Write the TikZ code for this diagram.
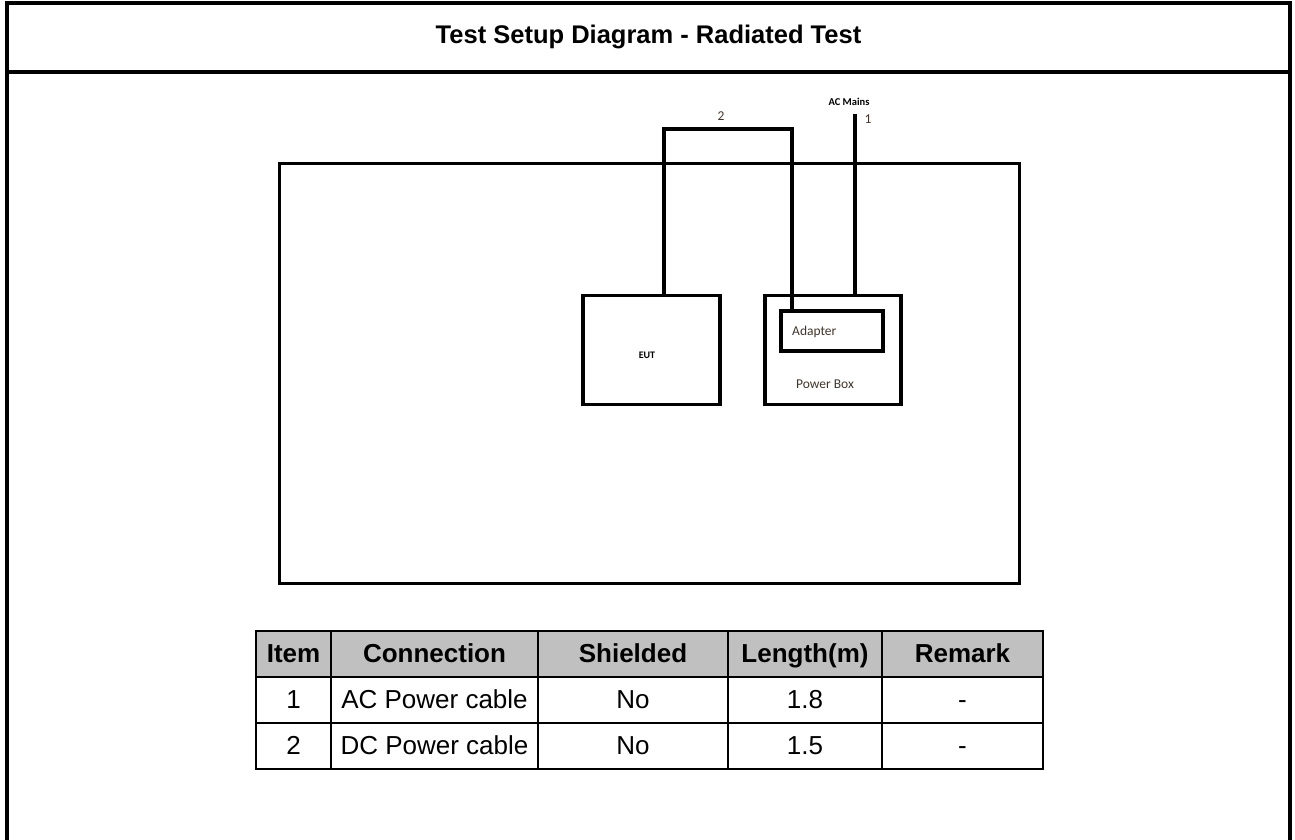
\documentclass[tikz,border=0pt]{standalone}
\usepackage{fontspec}
\setmainfont{Liberation Sans}
\newfontfamily\calfont{Carlito}
\definecolor{hdrgray}{RGB}{192,192,192}
\definecolor{lbltext}{RGB}{64,52,42}
\begin{document}
\begin{tikzpicture}[x=1pt,y=-1pt,
  frame/.style={line width=4pt},
  boxthick/.style={draw,line width=3.5pt,inner sep=0pt,rectangle},
  cable/.style={line width=3.5pt},
  cell/.style={draw,line width=1.6pt,inner sep=0pt,minimum height=46pt,text height=22.5pt,text depth=5pt,font=\fontsize{26}{30}\selectfont},
  hcell/.style={cell,fill=hdrgray,font=\fontsize{26}{30}\selectfont\bfseries},
  small/.style={font=\calfont\fontsize{13.5}{15}\selectfont,text=lbltext,inner sep=0pt}
]
\useasboundingbox (0,0) rectangle (1295,840);
% outer frame
\draw[frame] (7,845) -- (7,3) -- (1290,3) -- (1290,845);
\draw[frame] (7,72) -- (1290,72);
\node[font=\fontsize{25.5}{30}\selectfont\bfseries] (title) at (648.5,37) {Test Setup Diagram - Radiated Test};
% table area (ground plane)
\node[boxthick,minimum width=740pt,minimum height=420pt] (table) at (649.5,373.5) {};
% EUT
\node[boxthick,minimum width=137pt,minimum height=109pt] (eut) at (651.5,350) {};
\node[font=\calfont\bfseries\fontsize{10}{12}\selectfont,inner sep=0pt] (eutlbl) at (647,355) {EUT};
% Power box
\node[boxthick,minimum width=136pt,minimum height=109pt] (pbox) at (833,350) {};
\node[boxthick,minimum width=102pt,minimum height=40pt] (adapter) at (832,331) {};
\node[small,anchor=west] (adlbl) at (792,332) {Adapter};
\node[small] (pblbl) at (825,384) {Power Box};
% cable 2
\coordinate (c2a) at (664,129);
\coordinate (c2b) at (792,129);
\draw[cable,line join=miter] (eut.north -| c2a) -- (c2a) -- (c2b) -- (c2b |- adapter.north);
\node[small] (lbl2) at (721,116) {2};
% cable 1
\coordinate (actop) at (855,114);
\draw[cable] (actop) -- (actop |- pbox.north);
\node[small] (lbl1) at (868,119) {1};
\node[font=\calfont\bfseries\fontsize{10.5}{12}\selectfont,inner sep=0pt] (acm) at (849,101.5) {AC Mains};
% connection table
\node[hcell,minimum width=75pt] (h1) at (293.5,654) {Item};
\node[hcell,minimum width=207pt] (h2) at (434.5,654) {Connection};
\node[hcell,minimum width=190pt] (h3) at (633,654) {Shielded};
\node[hcell,minimum width=154pt] (h4) at (805,654) {Length(m)};
\node[hcell,minimum width=161pt] (h5) at (962.5,654) {Remark};
\node[cell,minimum width=75pt] (a1) at (293.5,700) {1};
\node[cell,minimum width=207pt] (a2) at (434.5,700) {AC Power cable};
\node[cell,minimum width=190pt] (a3) at (633,700) {No};
\node[cell,minimum width=154pt] (a4) at (805,700) {1.8};
\node[cell,minimum width=161pt] (a5) at (962.5,700) {-};
\node[cell,minimum width=75pt] (b1) at (293.5,746) {2};
\node[cell,minimum width=207pt] (b2) at (434.5,746) {DC Power cable};
\node[cell,minimum width=190pt] (b3) at (633,746) {No};
\node[cell,minimum width=154pt] (b4) at (805,746) {1.5};
\node[cell,minimum width=161pt] (b5) at (962.5,746) {-};
\end{tikzpicture}
\end{document}
